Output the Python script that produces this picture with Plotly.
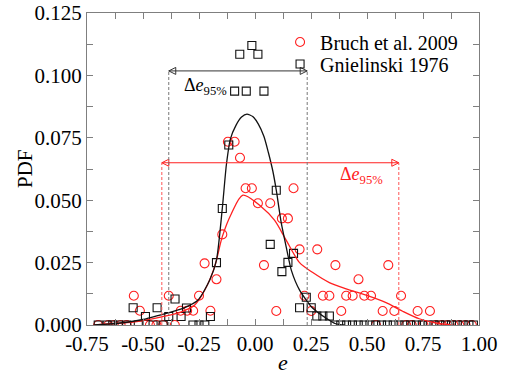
import plotly.graph_objects as go

# ---- data: Gnielinski 1976 (black squares) ----
gn_e = [-0.700, -0.660, -0.635, -0.610, -0.573, -0.544, -0.521, -0.489, -0.455, -0.437,
        -0.410, -0.385, -0.357, -0.330, -0.306, -0.277, -0.250, -0.224, -0.199, -0.172,
        -0.146, -0.117, -0.091, -0.068, -0.039, -0.014, 0.013, 0.040, 0.068, 0.095,
        0.120, 0.147, 0.172, 0.199, 0.229, 0.251, 0.276, 0.303, 0.332,
        0.357, 0.383, 0.409, 0.435, 0.461, 0.487, 0.513, 0.539, 0.565, 0.591,
        0.617, 0.643, 0.669, 0.695, 0.721, 0.747, 0.773, 0.799, 0.825, 0.851,
        0.877, 0.903, 0.929, 0.955, 0.975]
gn_pdf = [0.0, 0.0, 0.0, 0.0, 0.0, 0.0069, 0.0, 0.0034, 0.0, 0.0069,
          0.0, 0.0034, 0.0104, 0.0034, 0.0068, 0.0, 0.0, 0.0, 0.0034, 0.025,
          0.0467, 0.0721, 0.0937, 0.1085, 0.0937, 0.112, 0.1085, 0.0937, 0.0323, 0.054,
          0.0214, 0.0251, 0.0287, 0.0069, 0.0111, 0.0069, 0.0036, 0.0036, 0.0036,
          0.0, 0.0, 0.0, 0.0, 0.0, 0.0, 0.0, 0.0, 0.0, 0.0,
          0.0, 0.0, 0.0, 0.0, 0.0, 0.0, 0.0, 0.0, 0.0, 0.0,
          0.0, 0.0, 0.0, 0.0, 0.0]

# ---- data: Bruch et al. 2009 (red circles) ----
br_e = [-0.700, -0.655, -0.630, -0.600, -0.573, -0.541, -0.514, -0.469, -0.440, -0.410,
        -0.385, -0.358, -0.332, -0.303, -0.276, -0.250, -0.225, -0.199, -0.172, -0.146,
        -0.121, -0.091, -0.067, -0.042, -0.014, 0.013, 0.040, 0.068, 0.095, 0.120,
        0.147, 0.172, 0.199, 0.221, 0.251, 0.278, 0.303, 0.332, 0.359, 0.385,
        0.407, 0.436, 0.462, 0.488, 0.518, 0.540, 0.570, 0.595, 0.622, 0.652,
        0.675, 0.700, 0.726, 0.752, 0.781, 0.807, 0.834, 0.860, 0.886, 0.912,
        0.940, 0.968]
br_pdf = [0.0, 0.0, 0.0, 0.0, 0.0, 0.0117, 0.0057, 0.0, 0.0, 0.0,
          0.0117, 0.0, 0.0057, 0.0057, 0.0057, 0.0117, 0.0247, 0.0057, 0.0183, 0.0363,
          0.0734, 0.0734, 0.067, 0.0548, 0.0548, 0.0488, 0.024, 0.0488, 0.0056, 0.0427,
          0.0427, 0.0548, 0.0303, 0.0117, 0.0056, 0.0303, 0.0117, 0.0117, 0.024, 0.0056,
          0.0117, 0.0117, 0.0183, 0.0117, 0.0117, 0.0, 0.0056, 0.024, 0.0056, 0.0117,
          0.0, 0.0, 0.0056, 0.0, 0.0056, 0.0, 0.0, 0.0, 0.0, 0.0,
          0.0, 0.0]

# ---- fitted curves ----
gn_fit_e = [-0.72, -0.611, -0.50, -0.425, -0.321, -0.254, -0.202, -0.172, -0.146, -0.128,
            -0.110, -0.085, -0.060, -0.036, -0.010, 0.015, 0.040, 0.060, 0.080, 0.095,
            0.117, 0.140, 0.162, 0.199, 0.258, 0.318, 0.36, 0.40]
gn_fit_pdf = [0.0, 0.0007, 0.0022, 0.0040, 0.0067, 0.0100, 0.0180, 0.0260, 0.0467, 0.0640,
              0.0745, 0.0800, 0.0833, 0.0845, 0.0835, 0.0805, 0.0755, 0.0690, 0.0615, 0.0540,
              0.0410, 0.0310, 0.0220, 0.0140, 0.0067, 0.0027, 0.0005, 0.0]

br_fit_e = [-0.72, -0.66, -0.536, -0.417, -0.328, -0.269, -0.224, -0.18, -0.146, -0.105,
            -0.054, 0.028, 0.087, 0.139, 0.199, 0.258, 0.332, 0.407, 0.496, 0.585,
            0.659, 0.733, 0.808, 0.88]
br_fit_pdf = [0.0, 0.0004, 0.0013, 0.0033, 0.0053, 0.008, 0.014, 0.0234, 0.0354, 0.0447,
              0.052, 0.0474, 0.042, 0.034, 0.025, 0.021, 0.017, 0.0145, 0.012, 0.009,
              0.0055, 0.0025, 0.0008, 0.0]

# ---- 95% interval bounds and arrow levels ----
gn_lo, gn_hi, gn_level = -0.385, 0.233, 0.1018
br_lo, br_hi, br_level = -0.416, 0.642, 0.0650

x_ticks = [-0.75, -0.50, -0.25, 0.00, 0.25, 0.50, 0.75, 1.00]
x_ticktext = ["-0.75", "-0.50", "-0.25", "0.00", "0.25", "0.50", "0.75", "1.00"]
y_ticks = [0.000, 0.025, 0.050, 0.075, 0.100, 0.125]
y_ticktext = ["0.000", "0.025", "0.050", "0.075", "0.100", "0.125"]

FONT = "Liberation Serif"
AX = "#7f7f7f"
RED = "#ff2020"
BLK = "#111111"

fig = go.Figure()
fig.add_trace(go.Scatter(x=br_e, y=br_pdf, mode="markers", name="Bruch et al. 2009",
                         legend="legend",
                         marker=dict(symbol="circle-open", size=9, color=RED,
                                     line=dict(width=1.1, color=RED))))
fig.add_trace(go.Scatter(x=gn_e, y=gn_pdf, mode="markers", name="Gnielinski 1976",
                         legend="legend2",
                         marker=dict(symbol="square-open", size=8, color=BLK,
                                     line=dict(width=1.1, color=BLK))))
fig.add_trace(go.Scatter(x=br_fit_e, y=br_fit_pdf, mode="lines", showlegend=False,
                         line=dict(color=RED, width=1.3, shape="spline", smoothing=0.8)))
fig.add_trace(go.Scatter(x=gn_fit_e, y=gn_fit_pdf, mode="lines", showlegend=False,
                         line=dict(color=BLK, width=1.3, shape="spline", smoothing=0.6)))

# double-headed interval arrows
fig.add_trace(go.Scatter(x=[gn_lo, gn_hi], y=[gn_level, gn_level], mode="lines+markers",
                         showlegend=False, hoverinfo="skip",
                         line=dict(color="#333333", width=1),
                         marker=dict(symbol=["arrow-left-open", "arrow-right-open"], size=7,
                                     color="#333333", line=dict(width=1, color="#333333"))))
fig.add_trace(go.Scatter(x=[br_lo, br_hi], y=[br_level, br_level], mode="lines+markers",
                         showlegend=False, hoverinfo="skip",
                         line=dict(color=RED, width=1),
                         marker=dict(symbol=["arrow-left-open", "arrow-right-open"], size=7,
                                     color=RED, line=dict(width=1, color=RED))))

shapes = []
for xv in (gn_lo, gn_hi):
    shapes.append(dict(type="line", xref="x", yref="y", x0=xv, x1=xv, y0=0, y1=gn_level,
                       line=dict(color="#777777", width=1, dash="3px,2px")))
for xv in (br_lo, br_hi):
    shapes.append(dict(type="line", xref="x", yref="y", x0=xv, x1=xv, y0=0, y1=br_level,
                       line=dict(color="#ff5555", width=1, dash="3px,2px")))

annotations = [
    dict(x=-0.325, y=0.0955, xref="x", yref="y", xanchor="left", yanchor="middle",
         text="Δ<i>e</i><sub>95%</sub>", showarrow=False,
         font=dict(family=FONT, size=18, color="black")),
    dict(x=0.476, y=0.0597, xref="x", yref="y", xanchor="center", yanchor="middle",
         text="Δ<i>e</i><sub>95%</sub>", showarrow=False,
         font=dict(family=FONT, size=18, color=RED)),
    dict(x=0, y=0.5, xref="paper", yref="paper", xshift=-62, xanchor="center", yanchor="middle",
         text="PDF", textangle=-90, showarrow=False,
         font=dict(family=FONT, size=21, color="black")),
    dict(x=0.5, y=0, xref="paper", yref="paper", yshift=-37, xanchor="center", yanchor="middle",
         text="<i>e</i>", showarrow=False,
         font=dict(family=FONT, size=22, color="black")),
]

leg_common = dict(xanchor="left", yanchor="middle", bgcolor="rgba(0,0,0,0)",
                  font=dict(family=FONT, size=20, color="black"), itemwidth=30,
                  borderwidth=0)

fig.update_layout(
    width=512, height=374,
    margin=dict(l=87, r=33, t=13, b=49, autoexpand=False),
    paper_bgcolor="white", plot_bgcolor="white",
    font=dict(family=FONT, size=21, color="black"),
    shapes=shapes, annotations=annotations,
    legend=dict(x=0.4925, y=0.907, **leg_common),
    legend2=dict(x=0.4925, y=0.8365, **leg_common),
    showlegend=True,
)
fig.update_xaxes(range=[-0.75, 1.0], tickmode="array", tickvals=x_ticks, ticktext=x_ticktext,
                 automargin=False,
                 showgrid=False, zeroline=False, showline=True, linecolor=AX, linewidth=1,
                 mirror="ticks", ticks="inside", ticklen=6, tickcolor=AX, tickwidth=1,
                 minor=dict(tickmode="linear", tick0=-0.75, dtick=0.125, ticks="inside",
                            ticklen=6, tickcolor=AX, showgrid=False),
                 tickfont=dict(family=FONT, size=21))
fig.update_yaxes(range=[0, 0.125], tickmode="array", tickvals=y_ticks, ticktext=y_ticktext,
                 automargin=False,
                 showgrid=False, zeroline=False, showline=True, linecolor=AX, linewidth=1,
                 mirror="ticks", ticks="inside", ticklen=6, tickcolor=AX, tickwidth=1,
                 minor=dict(tickmode="linear", tick0=0, dtick=0.0125, ticks="inside",
                            ticklen=6, tickcolor=AX, showgrid=False),
                 tickfont=dict(family=FONT, size=21))

fig.write_html("out.html")
